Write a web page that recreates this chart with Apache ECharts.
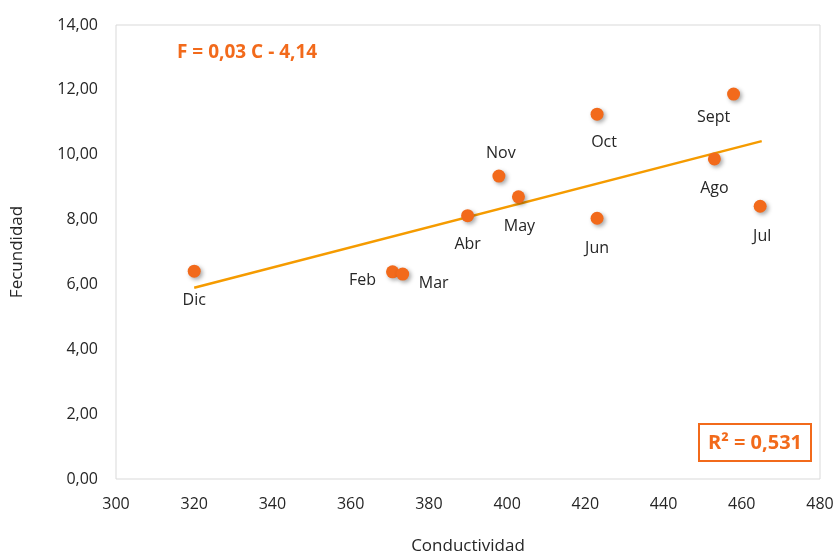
<!DOCTYPE html>
<html>
<head>
<meta charset="utf-8">
<script src="https://cdn.jsdelivr.net/npm/echarts@6/dist/echarts.min.js"></script>
<style>
  html, body { margin: 0; padding: 0; background: #fff; }
  #chart { width: 838px; height: 554px; }
</style>
</head>
<body>
<div id="chart"></div>
<script>
  // meses y valores (conductividad, fecundidad)
  var months = ['Dic', 'Feb', 'Mar', 'Abr', 'Nov', 'May', 'Oct', 'Jun', 'Ago', 'Sept', 'Jul'];
  var conductividad = [320, 370.7, 373.3, 389.9, 397.9, 402.9, 423, 423, 453, 457.9, 464.7];
  var fecundidad = [6.41, 6.39, 6.32, 8.12, 9.34, 8.70, 11.25, 8.04, 9.87, 11.87, 8.41];
  // linea de tendencia (extremos)
  var trendX = [320, 465.1];
  var trendY = [5.90, 10.42];
  var xTicks = [300, 320, 340, 360, 380, 400, 420, 440, 460, 480];
  var yTicks = [0, 2, 4, 6, 8, 10, 12, 14];

  // desplazamiento de las etiquetas respecto al punto
  var labelOffset = {
    Dic: [0, 29], Feb: [-30, 9], Mar: [31, 9], Abr: [0, 29], Nov: [2, -23],
    May: [1, 30], Oct: [7, 28], Jun: [0, 30], Ago: [0, 30], Sept: [-20, 23], Jul: [2, 30]
  };

  var orange = '#F26A1B';
  var textFont = '"Open Sans", sans-serif';
  var textColor = '#262626';

  var points = months.map(function (m, i) {
    return {
      name: m,
      value: [conductividad[i], fecundidad[i]],
      label: { offset: labelOffset[m] }
    };
  });

  var chart = echarts.init(document.getElementById('chart'));
  chart.setOption({
    animation: false,
    grid: {
      left: 116, right: 18, top: 25, bottom: 75,
      outerBoundsMode: 'none',
      show: true, borderColor: '#d9d9d9', borderWidth: 1
    },
    xAxis: {
      type: 'value',
      min: xTicks[0], max: xTicks[xTicks.length - 1], interval: 20,
      name: 'Conductividad',
      nameLocation: 'middle', nameGap: 59,
      nameTextStyle: { fontFamily: textFont, fontSize: 17, color: textColor },
      axisLine: { show: false },
      axisTick: { show: false },
      splitLine: { show: false },
      axisLabel: { fontFamily: textFont, fontSize: 16, color: textColor, margin: 17 }
    },
    yAxis: {
      type: 'value',
      min: yTicks[0], max: yTicks[yTicks.length - 1], interval: 2,
      name: 'Fecundidad',
      nameLocation: 'middle', nameGap: 90,
      nameTextStyle: { fontFamily: textFont, fontSize: 17, color: textColor },
      axisLine: { show: false },
      axisTick: { show: false },
      splitLine: { show: false },
      axisLabel: {
        fontFamily: textFont, fontSize: 16, color: textColor, margin: 18,
        formatter: function (v) { return v.toFixed(2).replace('.', ','); }
      }
    },
    series: [
      {
        type: 'line',
        data: [[trendX[0], trendY[0]], [trendX[1], trendY[1]]],
        showSymbol: false,
        lineStyle: { color: '#F59B00', width: 2.5 },
        z: 2
      },
      {
        type: 'scatter',
        data: points,
        symbolSize: 13,
        itemStyle: {
          color: orange, opacity: 1,
          shadowColor: 'rgba(0,0,0,0.35)', shadowBlur: 4,
          shadowOffsetX: 2, shadowOffsetY: 2
        },
        label: {
          show: true,
          position: 'inside',
          formatter: '{b}',
          fontFamily: textFont, fontSize: 16, color: textColor,
          textBorderWidth: 0
        },
        z: 3
      }
    ],
    graphic: [
      {
        type: 'text',
        left: 177, top: 43,
        style: {
          text: 'F = 0,03 C - 4,14',
          fill: orange,
          font: 'bold 19px "Open Sans", sans-serif'
        }
      },
      {
        type: 'rect',
        shape: { x: 699, y: 424, width: 112, height: 37 },
        style: { fill: '#fff', stroke: orange, lineWidth: 2 }
      },
      {
        type: 'text',
        x: 755, y: 443,
        style: {
          text: 'R² = 0,531',
          fill: orange,
          align: 'center', verticalAlign: 'middle',
          font: 'bold 20px "Open Sans", sans-serif'
        }
      }
    ]
  });
</script>
</body>
</html>
